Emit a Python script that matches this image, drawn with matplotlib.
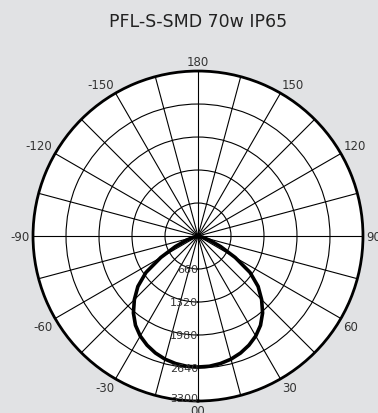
import matplotlib
matplotlib.use('Agg')
import matplotlib.pyplot as plt
import numpy as np

# light distribution (cd), symmetric about 0
angles_deg = [0, 5, 10, 15, 20, 25, 30, 35, 40, 45, 50, 55, 60, 65, 70, 75, 80, 85, 90]
intensity = [2620, 2615, 2590, 2550, 2490, 2410, 2310, 2180, 2010, 1800,
             1570, 1270, 860, 500, 250, 110, 40, 10, 0]

ring_values = [660, 1320, 1980, 2640, 3300]
angle_labels = ['00', '30', '60', '90', '120', '150', '180', '-150', '-120', '-90', '-60', '-30']
title = 'PFL-S-SMD 70w IP65'

bg = '#e1e2e4'
fig = plt.figure(figsize=(3.78, 4.14), dpi=100, facecolor=bg)
ax = fig.add_axes([0.0873, 0.029, 0.873, 0.797], projection='polar')
ax.set_facecolor('white')
ax.set_theta_zero_location('S')
ax.set_theta_direction(1)

# mirror curve over both sides
a = np.array(angles_deg, dtype=float)
v = np.array(intensity, dtype=float)
full_a = np.concatenate([-a[::-1], a[1:]])
full_v = np.concatenate([v[::-1], v[1:]])
ax.plot(np.radians(full_a), full_v, color='black', linewidth=2.6, zorder=5,
        solid_joinstyle='round')

ax.set_ylim(0, 3300)
ax.set_yticks(ring_values[:-1])
ax.set_yticklabels([])
ax.set_xticks(np.radians(np.arange(0, 360, 15)))
ax.set_xticklabels([])
ax.grid(True, color='black', linewidth=0.8)
ax.spines['polar'].set_linewidth(2.0)
ax.spines['polar'].set_color('black')

# radial labels along the 0 line
for r in ring_values:
    ax.text(0, r - 60 if r == 3300 else r, str(r), ha='right', va='center',
            fontsize=8, color='#333333', zorder=6)

# angle labels
for i, lab in enumerate(angle_labels):
    th = i * 30
    rad = np.radians(th)
    # screen direction: 0 at bottom, counterclockwise
    sx = np.sin(rad)
    sy = -np.cos(rad)
    ha = 'center' if abs(sx) < 0.2 else ('left' if sx > 0 else 'right')
    va = 'center' if abs(sy) < 0.2 else ('bottom' if sy > 0 else 'top')
    ax.text(rad, 3300 + 60, lab, ha=ha, va=va, fontsize=8.5, color='#333333',
            clip_on=False)

fig.text(0.525, 0.947, title, ha='center', va='center', fontsize=12.5, color='#222222')

plt.savefig('out.png', dpi=100, facecolor=bg)
